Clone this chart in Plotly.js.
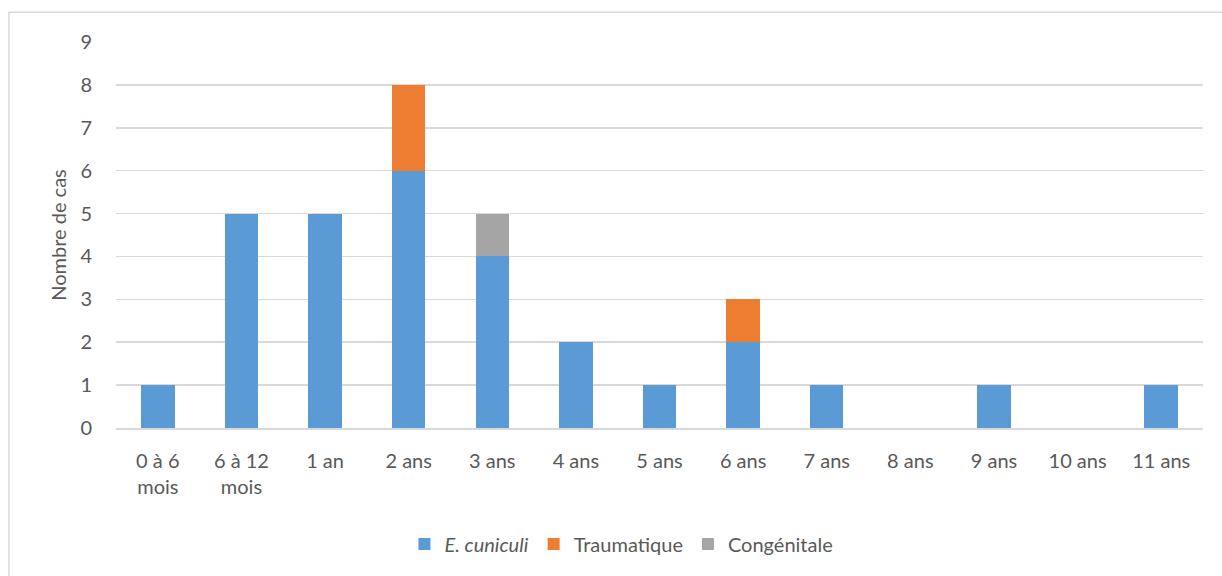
<!DOCTYPE html>
<html><head><meta charset="utf-8">
<script src="https://cdn.plot.ly/plotly-3.0.1.min.js"></script>
<style>body{margin:0;background:#fff}#c{width:1222px;height:576px}</style>
</head><body><div id="c"></div>
<script>
const categories = ["0 à 6<br>mois","6 à 12<br>mois","1 an","2 ans","3 ans","4 ans","5 ans","6 ans","7 ans","8 ans","9 ans","10 ans","11 ans"];
const eCuniculi = [1,5,5,6,4,2,1,2,1,0,1,0,1];
const traumatique = [0,0,0,2,0,0,0,1,0,0,0,0,0];
const congenitale = [0,0,0,0,1,0,0,0,0,0,0,0,0];
const yTicks = [0,1,2,3,4,5,6,7,8,9];

const font = {family:"Lato, 'Open Sans', sans-serif", size:20, color:"#595959"};
const traces = [
  {type:"bar", name:"<i>E. cuniculi</i>", x:categories, y:eCuniculi, marker:{color:"#5B9BD5"}},
  {type:"bar", name:"Traumatique", x:categories, y:traumatique, marker:{color:"#ED7D31"}},
  {type:"bar", name:"Congénitale", x:categories, y:congenitale, marker:{color:"#A5A5A5"}}
];
const layout = {
  width:1222, height:576, barmode:"stack", bargap:0.6,
  margin:{l:116, r:19, t:42, b:145},
  paper_bgcolor:"#fff", plot_bgcolor:"#fff", font:font, showlegend:true,
  xaxis:{type:"category", showgrid:false, showline:true, linecolor:"#D9D9D9", linewidth:1.5, ticks:"", tickfont:font, ticklabelstandoff:14},
  yaxis:{range:[0,9], tickvals:yTicks, showgrid:true, gridcolor:"#D9D9D9", gridwidth:1.5, zeroline:false, showline:false, ticks:"", tickfont:font, ticklabelstandoff:23,
    title:{text:"Nombre de cas", font:{family:font.family, size:20, color:"#595959"}, standoff:8}},
  legend:{orientation:"h", x:0.465, xanchor:"center", y:-0.25, yanchor:"top", font:font, traceorder:"normal", itemwidth:30},
  shapes:[{type:"rect", xref:"paper", yref:"paper", x0:-0.0985, x1:1.03, y0:-0.4, y1:1.0771, line:{color:"#D9D9D9", width:1.5}, fillcolor:"rgba(0,0,0,0)", layer:"below"}]
};
Plotly.newPlot("c", traces, layout, {displayModeBar:false, staticPlot:true});
</script></body></html>
